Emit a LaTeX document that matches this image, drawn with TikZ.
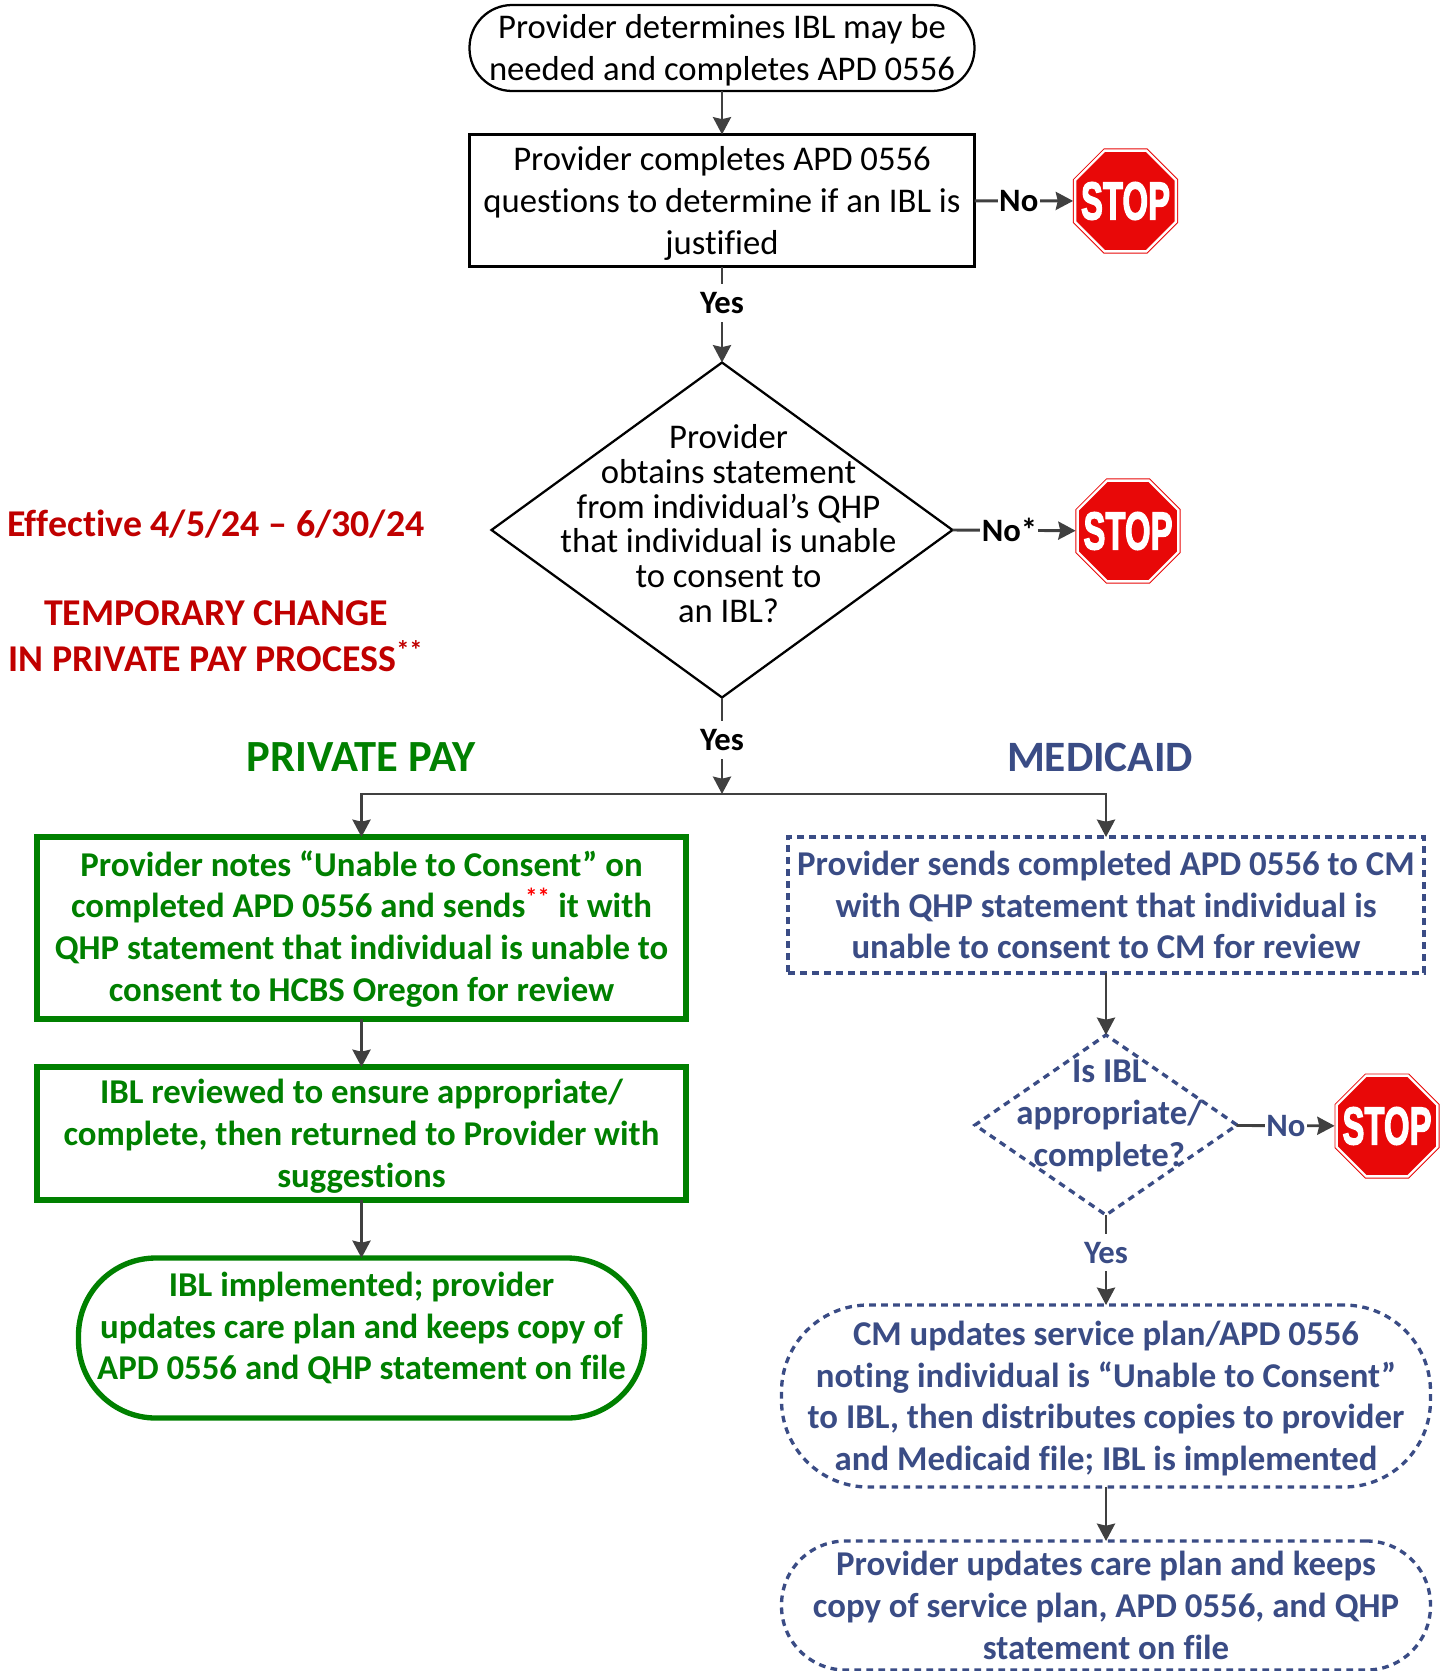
\documentclass[tikz,border=0pt]{standalone}
\usepackage{fontspec}
\usepackage{graphicx}
\setmainfont[Ligatures=NoCommon]{Carlito}
\newfontfamily\stopf[FakeBold=3]{Liberation Sans}
\usetikzlibrary{shapes.geometric,arrows.meta,calc}
\definecolor{gr}{HTML}{008000}
\definecolor{bl}{HTML}{3A4C85}
\definecolor{dred}{HTML}{C00000}
\definecolor{conn}{HTML}{404040}
\definecolor{stopred}{HTML}{E80808}
\newcommand{\stars}{{\color{red}\textsuperscript{**}}}
\newcommand{\starsb}{{\color{dred}\textsuperscript{**}}}
\newcommand{\stoptext}{\resizebox{66.75pt}{27.75pt}{\stopf\bfseries STOP}}
\tikzset{
  x=0.75pt,y=-0.75pt,
  sz/.style 2 args={minimum width=#1*0.75pt,minimum height=#2*0.75pt},
  tfirst/.style={execute at begin node=\rule{0pt}{#1}},
  base/.style={inner sep=0pt,outer sep=0pt,align=center,font=\fontsize{26}{31.3}\selectfont},
  blackbox/.style={base,draw=black,line width=1.7pt},
  greenbox/.style={base,draw=gr,text=gr,line width=4pt,font=\fontsize{26.1}{31.3}\selectfont\bfseries},
  bluebox/.style={base,draw=bl,text=bl,line width=2.5pt,dash pattern=on 5pt off 4pt,font=\fontsize{26.1}{31.3}\selectfont\bfseries},
  dia/.style={diamond,inner sep=0pt,outer sep=0pt},
  stopsign/.style={regular polygon,regular polygon sides=8,minimum size=81.8pt,inner sep=0pt,outer sep=0pt,
     fill=stopred,draw=stopred,line width=0.7pt,double=white,double distance=1.8pt,
     label={[text=white,inner sep=0pt]center:\stoptext}},
  link/.style={draw=conn,line width=2.2pt,-{Stealth[length=13pt,width=13.5pt,inset=1.5pt]}},
  lab/.style={fill=white,inner sep=1pt,outer sep=0pt,minimum height=28pt,font=\fontsize{24.5}{30}\selectfont\bfseries,text=black},
  blab/.style={lab,text=bl},
  head/.style={inner sep=0pt,align=center,font=\fontsize{28.4}{34.4}\selectfont\bfseries,text=dred},
}
\begin{document}
\begin{tikzpicture}
\useasboundingbox (0,0) rectangle (1447,1671);
% top
\node[blackbox,tfirst=52.7pt,rounded corners=32pt,sz={505}{86}] (start) at (722,48) {Provider determines IBL may be\\needed and completes APD 0556};
\node[blackbox,tfirst=84.8pt,sz={505}{132}] (just) at (722,200.5) {Provider completes APD 0556\\questions to determine if an IBL is\\justified};
\node[stopsign] (stopa) at (1125.5,201) {};
\node[dia,draw=black,line width=1.7pt,sz={461}{335},
  label={[base,text=black,font=\fontsize{26}{26}\selectfont,shift={(4.875pt,4.9pt)}]center:Provider\\obtains statement\\from individual’s QHP\\that individual is unable\\to consent to\\an IBL?}] (qhp) at (722,530) {};
\node[stopsign] (stopb) at (1128,531) {};
\coordinate (fork) at (722,794);
% side notes
\node[head] (eff) at (216,524) {Effective 4/5/24 – 6/30/24};
\node[head] (temp) at (216,636) {TEMPORARY CHANGE\\IN PRIVATE PAY PROCESS\starsb};
\node[head,text=gr,font=\fontsize{33.4}{38}\selectfont\bfseries] (pp) at (361,757) {PRIVATE PAY};
\node[head,text=bl,font=\fontsize{32.5}{38}\selectfont\bfseries] (med) at (1100,757) {MEDICAID};
% green column
\node[greenbox,tfirst=114.5pt,sz={649}{182}] (ga) at (361.5,928) {Provider notes “Unable to Consent” on\\completed APD 0556 and sends\stars\ it with\\QHP statement that individual is unable to\\consent to HCBS Oregon for review};
\node[greenbox,tfirst=84.8pt,sz={649}{133}] (gb) at (361.5,1133.5) {IBL reviewed to ensure appropriate/\\complete, then returned to Provider with\\suggestions};
\node[greenbox,rounded corners=58pt,sz={566}{160},
  label={[base,text=gr,font=\fontsize{26.1}{31.3}\selectfont\bfseries,shift={(0pt,7.4pt)}]center:IBL implemented; provider\\updates care plan and keeps copy of\\APD 0556 and QHP statement on file}] (gc) at (361.5,1338) {};
% blue column
\node[bluebox,sz={636}{136}] (ba) at (1106,905) {Provider sends completed APD 0556 to CM\\with QHP statement that individual is\\unable to consent to CM for review};
\node[dia,draw=bl,line width=2.5pt,dash pattern=on 5pt off 4pt,sz={262}{180},
  label={[base,text=bl,font=\fontsize{26.1}{31.3}\selectfont\bfseries,shift={(2.5pt,6.9pt)}]center:Is IBL\\appropriate/\\complete?}] (bd) at (1106,1125) {};
\node[stopsign] (stopc) at (1387,1126) {};
\node[bluebox,tfirst=115.9pt,rounded corners=65pt,sz={649}{182}] (bb) at (1106,1396) {CM updates service plan/APD 0556\\noting individual is “Unable to Consent”\\to IBL, then distributes copies to provider\\and Medicaid file; IBL is implemented};
\node[bluebox,rounded corners=48pt,sz={649}{129}] (bc) at (1106,1605.5) {Provider updates care plan and keeps\\copy of service plan, APD 0556, and QHP\\statement on file};
% connectors
\draw[link] (start) -- (just);
\draw[link] (just) -- node[lab,pos=0.38] {Yes} (qhp);
\draw[link,shorten >=1.5pt] (just) -- node[lab,pos=0.44,minimum height=0pt] {No} (stopa);
\draw[link,shorten >=1.5pt] (qhp.east) -- node[lab,pos=0.455,minimum height=0pt] {No*} (stopb);
\draw[link] (qhp) -- node[lab,pos=0.44] {Yes} (fork);
\draw[link] (fork) -| (ga);
\draw[link] (fork) -| (ba);
\draw[link] (ga) -- (gb);
\draw[link] (gb) -- (gc);
\draw[link] (ba) -- (bd);
\draw[link,shorten >=1.5pt] (bd) -- node[blab,pos=0.495,minimum height=0pt] {No} (stopc);
\draw[link] (bd) -- node[blab,pos=0.42] {Yes} (bb);
\draw[link] (bb) -- (bc);
\end{tikzpicture}
\end{document}
